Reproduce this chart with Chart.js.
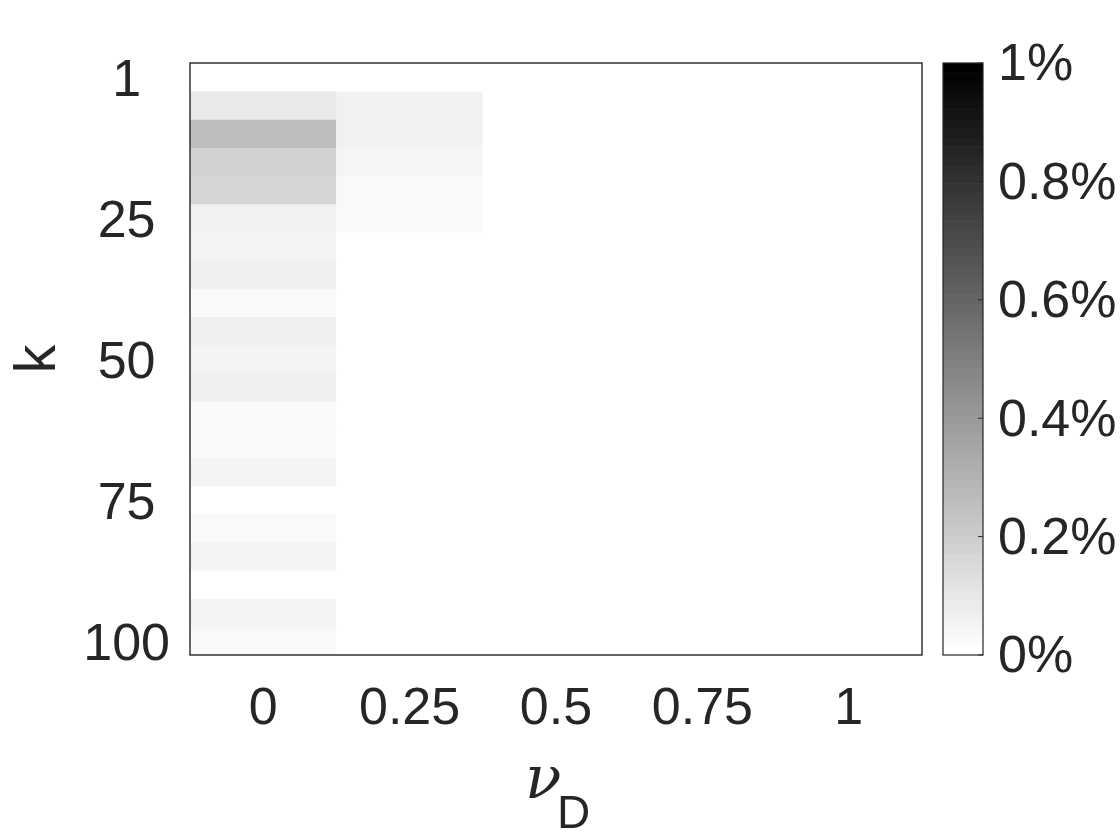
<!DOCTYPE html>
<html>
<head>
<meta charset="utf-8">
<script src="https://cdn.jsdelivr.net/npm/chart.js@4.4.0/dist/chart.umd.min.js"></script>
<style>
  html, body { margin: 0; padding: 0; background: #fff; }
</style>
</head>
<body>
<canvas id="chart" width="1120" height="840"></canvas>
<script>
// x categories (nu_D) and y rows (k)
const nuLabels = ['0', '0.25', '0.5', '0.75', '1'];
const kValues = [1, 5, 10, 15, 20, 25, 30, 35, 40, 45, 50, 55, 60, 65, 70, 75, 80, 85, 90, 95, 100];
const kTickLabels = [1, 25, 50, 75, 100];

// share in % for each k row, one array per nu_D column
const shareNu0   = [0, 0.086, 0.255, 0.176, 0.165, 0.055, 0.043, 0.059, 0.024, 0.059, 0.043, 0.059, 0.024, 0.024, 0.043, 0, 0.024, 0.043, 0, 0.043, 0.024];
const shareNu025 = [0, 0.055, 0.055, 0.039, 0.024, 0.024, 0, 0, 0, 0, 0, 0, 0, 0, 0, 0, 0, 0, 0, 0, 0];
const shareNu05  = [0, 0, 0, 0, 0, 0, 0, 0, 0, 0, 0, 0, 0, 0, 0, 0, 0, 0, 0, 0, 0];
const shareNu075 = [0, 0, 0, 0, 0, 0, 0, 0, 0, 0, 0, 0, 0, 0, 0, 0, 0, 0, 0, 0, 0];
const shareNu1   = [0, 0, 0, 0, 0, 0, 0, 0, 0, 0, 0, 0, 0, 0, 0, 0, 0, 0, 0, 0, 0];

// colorbar
const cbMax = 1;
const cbTicks = [0, 0.2, 0.4, 0.6, 0.8, 1];

const columns = [shareNu0, shareNu025, shareNu05, shareNu075, shareNu1];
const textColor = '#262626';

function grayFor(v) {
  const g = Math.round(255 * (1 - Math.min(v, cbMax) / cbMax));
  return `rgb(${g},${g},${g})`;
}

// axis boxes keep a fixed size and no extra label padding
function fixBox(size) {
  return s => {
    if (s.isHorizontal()) s.height = size; else s.width = size;
    s.paddingTop = 0;
    s.paddingBottom = 0;
    s.paddingLeft = 0;
    s.paddingRight = 0;
  };
}

Chart.defaults.font.family = '"Liberation Sans", Arial, sans-serif';
Chart.defaults.color = textColor;

// one floating-bar dataset per k row
const datasets = kValues.map((k, r) => ({
  label: 'k=' + k,
  data: columns.map(() => [r, r + 1]),
  backgroundColor: columns.map(col => grayFor(col[r])),
  borderWidth: 0,
  barPercentage: 1,
  categoryPercentage: 1,
  grouped: false,
  yAxisID: 'y'
}));

const framePlugin = {
  id: 'frame',
  beforeDraw(chart) {
    const ctx = chart.ctx;
    ctx.save();
    ctx.fillStyle = '#fff';
    ctx.fillRect(0, 0, chart.width, chart.height);
    ctx.restore();
  },
  afterDatasetsDraw(chart) {
    const { ctx, chartArea: a } = chart;
    const cb = chart.scales.cb;
    ctx.save();
    // plot box
    ctx.strokeStyle = textColor;
    ctx.lineWidth = 1.4;
    ctx.strokeRect(a.left, a.top, a.right - a.left, a.bottom - a.top);

    // colorbar, 64 grey levels
    const x0 = a.right + 21, w = 40;
    const n = 64;
    for (let i = 0; i < n; i++) {
      const yA = cb.getPixelForValue(cbMax * i / n);
      const yB = cb.getPixelForValue(cbMax * (i + 1) / n);
      const g = Math.round(255 * (1 - i / (n - 1)));
      ctx.fillStyle = `rgb(${g},${g},${g})`;
      ctx.fillRect(x0, yB, w, yA - yB + 0.6);
    }
    ctx.strokeStyle = textColor;
    ctx.lineWidth = 1.2;
    ctx.strokeRect(x0, cb.top, w, cb.bottom - cb.top);
    ctx.lineWidth = 1;
    cbTicks.forEach(t => {
      const y = cb.getPixelForValue(t);
      ctx.beginPath();
      ctx.moveTo(x0 + w - 5, y);
      ctx.lineTo(x0 + w, y);
      ctx.stroke();
    });

    // x axis title: nu with subscript D
    const cx = (a.left + a.right) / 2;
    ctx.fillStyle = textColor;
    ctx.textBaseline = 'alphabetic';
    ctx.textAlign = 'left';
    ctx.font = 'italic 60px "DejaVu Serif", "Liberation Serif", serif';
    ctx.fillText('\u03BD', cx - 31, a.bottom + 143);
    ctx.font = '46px "Liberation Sans", Arial, sans-serif';
    ctx.fillText('D', cx + 1, a.bottom + 173);
    ctx.restore();
  }
};

new Chart(document.getElementById('chart'), {
  type: 'bar',
  data: { labels: nuLabels, datasets: datasets },
  options: {
    responsive: false,
    devicePixelRatio: 1,
    animation: false,
    layout: { padding: { top: 63, left: 0, right: 0, bottom: 0 } },
    plugins: {
      legend: { display: false },
      tooltip: { enabled: false }
    },
    scales: {
      x: {
        type: 'category',
        grid: { display: false, drawTicks: false },
        border: { display: false },
        ticks: { font: { size: 52 }, color: textColor, padding: 23, maxRotation: 0, autoSkip: false },
        afterFit: fixBox(185)
      },
      y: {
        type: 'linear',
        position: 'left',
        min: 0,
        max: kValues.length,
        reverse: true,
        grid: { display: false, drawTicks: false },
        border: { display: false },
        afterBuildTicks: s => {
          s.ticks = kTickLabels.map(k => ({ value: kValues.indexOf(k) + 0.5 }));
        },
        ticks: {
          font: { size: 52 },
          color: textColor,
          padding: 20,
          labelOffset: 5,
          crossAlign: 'center',
          autoSkip: false,
          callback: v => kValues[Math.floor(v)]
        },
        title: {
          display: true,
          text: 'k',
          color: textColor,
          font: { size: 58, lineHeight: 1 },
          padding: { top: 10, bottom: 0 }
        },
        afterFit: fixBox(190)
      },
      cb: {
        type: 'linear',
        position: 'right',
        min: 0,
        max: cbMax,
        grid: { display: false, drawTicks: false },
        border: { display: false },
        afterBuildTicks: s => {
          s.ticks = cbTicks.map(t => ({ value: t }));
        },
        ticks: {
          font: { size: 52 },
          color: textColor,
          padding: 76,
          labelOffset: 3,
          autoSkip: false,
          callback: v => (Math.round(v * 10) / 10) + '%'
        },
        afterFit: fixBox(198)
      }
    }
  },
  plugins: [framePlugin]
});
</script>
</body>
</html>
